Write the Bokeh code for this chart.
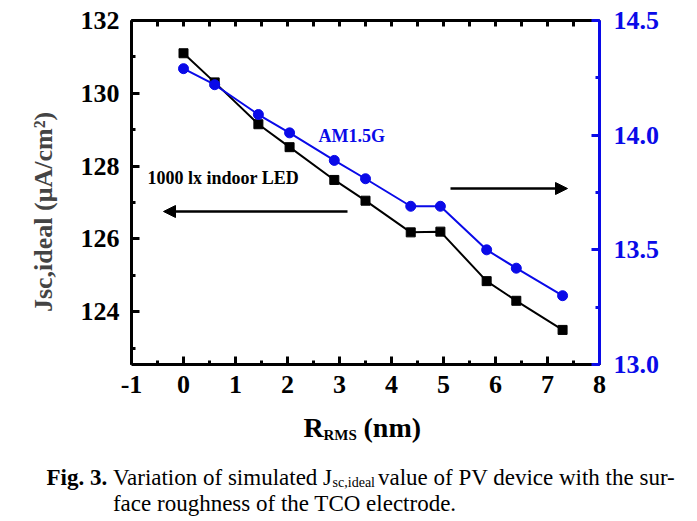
import numpy as np
from bokeh.plotting import figure
from bokeh.layouts import column
from bokeh.models import (Range1d, LinearAxis, SingleIntervalTicker, FixedTicker,
                          PrintfTickFormatter, Label, Arrow, NormalHead)
from bokeh.core.properties import value
from bokeh.embed import file_html
from bokeh.resources import INLINE

# ---- data ----
r_rms = [0, 0.6, 1.44, 2.04, 2.9, 3.5, 4.37, 4.94, 5.83, 6.4, 7.29]
jsc_led = [131.1, 130.3, 129.15, 128.52, 127.62, 127.05, 126.18, 126.2, 124.84, 124.3, 123.5]
jsc_am15g = [14.29, 14.22, 14.09, 14.01, 13.89, 13.81, 13.69, 13.69, 13.50, 13.42, 13.30]

x_range = (-1, 8)
left_range = (122.55, 132)
right_range = (13.0, 14.5)

series_labels = ["1000 lx indoor LED", "AM1.5G"]
y_label = "Jsc,ideal (\u03bcA/cm\u00b2)" + "\u00a0" * 6
x_label_parts = ["R", "RMS", "(nm)"]
caption_parts = ["Fig. 3.", "Variation of simulated J", "sc,ideal",
                 " value of PV device with the sur-",
                 "face roughness of the TCO electrode."]

BLUE = "#0a0ae8"
FONT = "Liberation Serif"

W = 690
H1 = 406
H2 = 112
FL, FR, FT, FB = 131, 599, 20, 364  # frame edges in page px


def dx(px):
    return x_range[0] + (px - FL) * (x_range[1] - x_range[0]) / (FR - FL)


def dy(py):
    return left_range[1] - (py - FT) * (left_range[1] - left_range[0]) / (FB - FT)


p = figure(width=W, height=H1, output_backend="svg", toolbar_location=None,
           x_range=Range1d(*x_range), y_range=Range1d(*left_range),
           x_axis_location=None, y_axis_location=None,
           min_border_left=FL, min_border_right=W - FR,
           min_border_top=FT, min_border_bottom=H1 - FB)
p.frame_align = False
p.outline_line_color = None
p.xgrid.visible = False
p.ygrid.visible = False
p.background_fill_color = "white"
p.border_fill_color = "white"
p.extra_y_ranges = {"right": Range1d(*right_range)}


def style_axis(ax, color):
    ax.axis_line_width = 3
    ax.axis_line_color = color
    ax.major_tick_line_color = color
    ax.minor_tick_line_color = color
    ax.major_tick_line_width = 3
    ax.minor_tick_line_width = 3
    ax.major_tick_in = 8
    ax.major_tick_out = 0
    ax.minor_tick_in = 4
    ax.minor_tick_out = 0
    ax.major_label_text_font = FONT
    ax.major_label_text_font_style = "bold"
    ax.major_label_text_color = color
    ax.major_label_text_font_size = "26px"


xb = LinearAxis(ticker=SingleIntervalTicker(interval=1, num_minor_ticks=2),
                formatter=PrintfTickFormatter(format="%d"))
style_axis(xb, "black")
xb.major_label_standoff = 11
p.add_layout(xb, "below")

# top frame line with inward ticks only (no labels)
top_ticks = list(np.arange(x_range[0], x_range[1] + 0.01, 0.5))
xt = LinearAxis(ticker=FixedTicker(ticks=[], minor_ticks=top_ticks))
style_axis(xt, "black")
xt.minor_tick_in = 6
p.add_layout(xt, "above")

yl = LinearAxis(ticker=SingleIntervalTicker(interval=2, num_minor_ticks=2),
                formatter=PrintfTickFormatter(format="%d"),
                axis_label=y_label)
style_axis(yl, "black")
yl.major_label_standoff = 12
yl.axis_label_text_font = FONT
yl.axis_label_text_font_style = "bold"
yl.axis_label_text_font_size = "26px"
yl.axis_label_standoff = 20
p.add_layout(yl, "left")

yr = LinearAxis(y_range_name="right",
                ticker=SingleIntervalTicker(interval=0.5, num_minor_ticks=2),
                formatter=PrintfTickFormatter(format="%.1f"))
style_axis(yr, BLUE)
yr.major_label_standoff = 14
p.add_layout(yr, "right")

# ---- series ----
p.line(r_rms, jsc_led, line_color="black", line_width=2)
p.scatter(r_rms, jsc_led, marker="square", size=9, fill_color="black", line_color="black")
p.line(r_rms, jsc_am15g, line_color=BLUE, line_width=2, y_range_name="right")
p.scatter(r_rms, jsc_am15g, marker="circle", size=10, fill_color=BLUE, line_color=BLUE,
          y_range_name="right")

# ---- annotations ----
p.add_layout(Label(x=dx(147), y=dy(177), text=series_labels[0], text_font=FONT,
                   text_font_style="bold", text_font_size="18px", text_color="black",
                   text_baseline="middle", text_align="left"))
p.add_layout(Label(x=dx(318), y=dy(135), text=series_labels[1], text_font=FONT,
                   text_font_style="bold", text_font_size="18px", text_color=BLUE,
                   text_baseline="middle", text_align="left"))
p.add_layout(Arrow(end=NormalHead(size=12, fill_color="black", line_color="black"),
                   x_start=dx(347), y_start=dy(211), x_end=dx(163), y_end=dy(211),
                   line_width=2.5, line_color="black"))
p.add_layout(Arrow(end=NormalHead(size=12, fill_color="black", line_color="black"),
                   x_start=dx(450), y_start=dy(188), x_end=dx(567), y_end=dy(188),
                   line_width=2.5, line_color="black"))

# ---- lower panel: x-axis title and caption ----
p2 = figure(width=W, height=H2, output_backend="svg", toolbar_location=None,
            x_range=Range1d(0, W), y_range=Range1d(H2, 0),
            x_axis_location=None, y_axis_location=None,
            min_border=0, min_border_left=0, min_border_right=0,
            min_border_top=0, min_border_bottom=0)
p2.frame_align = False
p2.outline_line_color = None
p2.xgrid.visible = False
p2.ygrid.visible = False
p2.background_fill_color = "white"
p2.border_fill_color = "white"


def txt(px, py, text, size, style="bold", color="black"):
    p2.text(x=[px], y=[py - H1], text=[text], text_font=value(FONT),
            text_font_style=style, text_font_size=value(size), text_color=color,
            text_baseline="alphabetic", text_align="left")


txt(303, 427, x_label_parts[0], "28px")
txt(323, 434, x_label_parts[1], "15px")
txt(363, 427, x_label_parts[2], "28px")

cap_size = 23
x0 = 46
base1, base2 = 477, 503
txt(x0, base1, caption_parts[0], f"{cap_size}px")
xv = x0 + 2.639 * cap_size + 0.25 * cap_size
txt(xv, base1, caption_parts[1], f"{cap_size}px", style="normal")
xs = xv + 9.638 * cap_size - 2
txt(xs, base1 + 5, caption_parts[2], "14px", style="normal")
xr = xs + 3.027 * 14 + 3
txt(xr, base1, caption_parts[3], f"{cap_size}px", style="normal")
txt(xv, base2, caption_parts[4], f"{cap_size}px", style="normal")

layout = column(p, p2, spacing=0)
open("out.html", "w").write(file_html(layout, INLINE))
